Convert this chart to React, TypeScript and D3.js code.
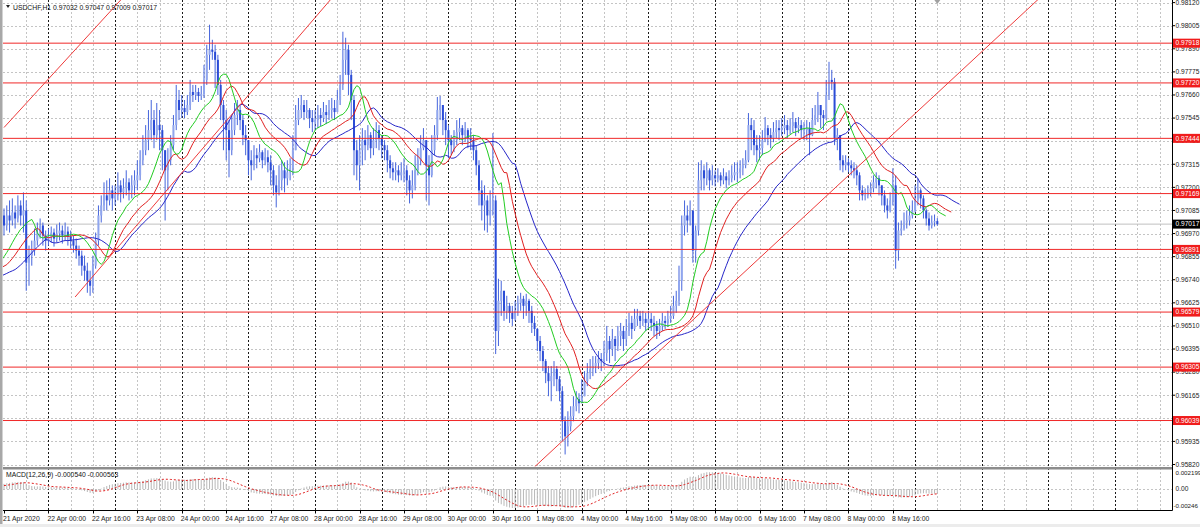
import * as d3 from "d3";

// prices in 1e-5 units (0.97010 -> 97010)
// median prices of the bars before the first visible one (only needed to warm up the indicators)
const priorPrices = [
  96690, 96700, 96710, 96695, 96705, 96715, 96700, 96690, 96705, 96720, 96710, 96700, 96715, 96725, 96710, 96720, 96730, 96720, 96735,
  96750, 96760, 96770, 96765, 96775, 96780, 96790, 96785, 96795, 96800, 96810, 96820,
  96835, 96850, 96860, 96855, 96870,
  96930, 96960, 96990,
];
const firstOpen = 97060;

const closes = [
  97010, 97060, 97035, 97075, 97045, 97110, 97060, 97085,
  96825, 96860, 96885, 96935, 96975, 97010, 96960, 96935,
  96955, 96975, 96945, 96970, 96985, 96960, 96980, 96955,
  96935, 96910, 96885, 96860, 96810, 96785, 96735, 96710,
  96810, 96935, 97060, 97110, 97160, 97135, 97185, 97145,
  97160, 97210, 97175, 97195, 97225, 97185, 97210, 97235,
  97260, 97335, 97385, 97435, 97485, 97535, 97460, 97510,
  97485, 97385, 97285, 97335, 97410, 97510, 97635, 97585,
  97595, 97575, 97610, 97675, 97660, 97675, 97655, 97665,
  97735, 97860, 97885, 97875, 97835, 97710, 97610, 97535,
  97485, 97385, 97485, 97560, 97585, 97535, 97460, 97435,
  97335, 97310, 97360, 97345, 97375, 97335, 97350, 97325,
  97285, 97210, 97175, 97235, 97285, 97245, 97275, 97295,
  97385, 97535, 97585, 97610, 97575, 97585, 97545, 97525,
  97535, 97560, 97545, 97575, 97560, 97585, 97595, 97575,
  97635, 97710, 97835, 97885, 97760, 97635, 97385, 97310,
  97385, 97435, 97410, 97460, 97395, 97435, 97485, 97445,
  97410, 97385, 97335, 97295, 97275, 97285, 97260, 97275,
  97285, 97235, 97185, 97210, 97285, 97335, 97395, 97435,
  97310, 97260, 97385, 97460, 97585, 97610, 97535, 97485,
  97435, 97410, 97435, 97475, 97495, 97460, 97485, 97445,
  97435, 97385, 97310, 97185, 97110, 97135, 97060, 97085,
  97135, 96485, 96635, 96685, 96585, 96610, 96575, 96545,
  96585, 96625, 96645, 96610, 96635, 96585, 96525, 96495,
  96435, 96385, 96335, 96275, 96235, 96260, 96295, 96245,
  96185, 96035, 95960, 96010, 96060, 96110, 96145, 96125,
  96160, 96235, 96275, 96295, 96310, 96325, 96345, 96335,
  96375, 96435, 96395, 96445, 96410, 96460, 96485, 96445,
  96485, 96525, 96495, 96545, 96560, 96535, 96545, 96525,
  96545, 96525, 96510, 96485, 96510, 96535, 96525, 96545,
  96560, 96610, 96635, 96735, 97010, 97060, 97035, 97085,
  96885, 96985, 97235, 97285, 97245, 97285, 97235, 97260,
  97245, 97260, 97235, 97255, 97235, 97245, 97260, 97275,
  97275, 97295, 97310, 97335, 97510, 97485, 97410, 97385,
  97395, 97435, 97495, 97460, 97445, 97475, 97495, 97485,
  97495, 97510, 97485, 97505, 97525, 97495, 97510, 97485,
  97485, 97495, 97460, 97535, 97560, 97610, 97560, 97545,
  97660, 97735, 97725, 97445, 97460, 97335, 97310, 97325,
  97310, 97295, 97285, 97260, 97185, 97160, 97160, 97175,
  97195, 97225, 97245, 97210, 97160, 97110, 97085, 97135,
  97210, 96885, 96985, 96995, 97025, 97035, 97060, 97085,
  97135, 97185, 97145, 97085, 97045, 97010, 97025, 97032, 97017,
];

const highs = [
  97095, 97110, 97135, 97145, 97110, 97160, 97135, 97175,
  97135, 96910, 96935, 96995, 97025, 97045, 97025, 96985,
  96995, 97005, 96995, 97015, 97025, 97010, 97025, 97005,
  96985, 96960, 96945, 96910, 96885, 96860, 96825, 96785,
  96860, 96975, 97110, 97160, 97225, 97235, 97245, 97210,
  97210, 97275, 97235, 97245, 97285, 97245, 97260, 97285,
  97335, 97385, 97460, 97510, 97585, 97635, 97585, 97620,
  97585, 97510, 97385, 97395, 97460, 97560, 97710, 97685,
  97660, 97635, 97660, 97735, 97710, 97710, 97695, 97705,
  97810, 97910, 98010, 97935, 97910, 97860, 97735, 97635,
  97585, 97535, 97560, 97620, 97635, 97610, 97560, 97510,
  97435, 97385, 97410, 97395, 97415, 97385, 97395, 97385,
  97360, 97310, 97260, 97310, 97335, 97325, 97335, 97345,
  97460, 97610, 97645, 97660, 97635, 97635, 97595, 97585,
  97585, 97610, 97595, 97625, 97610, 97635, 97645, 97635,
  97685, 97760, 97975, 97945, 97910, 97785, 97660, 97435,
  97460, 97495, 97485, 97510, 97475, 97495, 97525, 97510,
  97460, 97435, 97410, 97360, 97325, 97325, 97310, 97325,
  97345, 97310, 97260, 97285, 97360, 97395, 97460, 97495,
  97435, 97360, 97460, 97510, 97650, 97655, 97610, 97575,
  97510, 97460, 97485, 97535, 97545, 97510, 97525, 97495,
  97495, 97460, 97410, 97335, 97235, 97210, 97160, 97185,
  97470, 97160, 96745, 96735, 96685, 96660, 96625, 96610,
  96635, 96660, 96675, 96660, 96670, 96645, 96610, 96560,
  96500, 96460, 96410, 96345, 96310, 96310, 96335, 96310,
  96260, 96210, 96060, 96085, 96110, 96160, 96185, 96175,
  96245, 96285, 96325, 96345, 96360, 96360, 96385, 96375,
  96435, 96510, 96460, 96495, 96460, 96510, 96525, 96510,
  96545, 96575, 96560, 96595, 96595, 96585, 96585, 96575,
  96585, 96575, 96560, 96535, 96545, 96575, 96560, 96585,
  96610, 96660, 96685, 96810, 97060, 97135, 97110, 97135,
  97085, 97010, 97325, 97335, 97310, 97325, 97295, 97310,
  97285, 97295, 97275, 97295, 97275, 97285, 97310, 97325,
  97325, 97335, 97345, 97385, 97570, 97545, 97535, 97460,
  97460, 97485, 97550, 97510, 97495, 97525, 97535, 97535,
  97545, 97560, 97535, 97545, 97575, 97545, 97550, 97535,
  97525, 97535, 97525, 97595, 97610, 97675, 97610, 97585,
  97735, 97825, 97785, 97745, 97495, 97460, 97360, 97360,
  97345, 97335, 97325, 97310, 97275, 97210, 97195, 97210,
  97225, 97260, 97275, 97260, 97210, 97185, 97145, 97175,
  97295, 97260, 97025, 97035, 97075, 97085, 97110, 97135,
  97210, 97245, 97195, 97160, 97095, 97075, 97060, 97065, 97047,
];

const lows = [
  96960, 96985, 96975, 97010, 96995, 97025, 97010, 96975,
  96685, 96710, 96810, 96860, 96910, 96945, 96910, 96885,
  96910, 96925, 96905, 96925, 96935, 96920, 96935, 96910,
  96895, 96875, 96845, 96810, 96760, 96735, 96675, 96660,
  96675, 96795, 96910, 97025, 97085, 97085, 97110, 97085,
  97110, 97135, 97125, 97145, 97160, 97135, 97145, 97160,
  97185, 97235, 97310, 97360, 97385, 97435, 97395, 97435,
  97385, 97285, 97035, 97185, 97310, 97385, 97485, 97535,
  97545, 97545, 97560, 97585, 97625, 97635, 97625, 97635,
  97645, 97710, 97785, 97835, 97695, 97660, 97535, 97385,
  97335, 97250, 97360, 97460, 97510, 97485, 97410, 97360,
  97260, 97235, 97285, 97295, 97325, 97295, 97310, 97275,
  97210, 97160, 97100, 97160, 97185, 97175, 97210, 97235,
  97260, 97385, 97510, 97545, 97535, 97545, 97495, 97475,
  97485, 97495, 97505, 97525, 97515, 97535, 97545, 97535,
  97585, 97610, 97685, 97760, 97660, 97535, 97260, 97235,
  97185, 97310, 97335, 97385, 97345, 97360, 97395, 97385,
  97345, 97335, 97275, 97245, 97235, 97235, 97225, 97235,
  97225, 97160, 97120, 97145, 97185, 97260, 97310, 97385,
  97135, 97110, 97250, 97360, 97435, 97535, 97460, 97410,
  97345, 97360, 97375, 97410, 97435, 97410, 97425, 97395,
  97385, 97335, 97260, 97110, 97035, 96985, 96975, 97010,
  97060, 96370, 96410, 96560, 96535, 96545, 96525, 96510,
  96535, 96560, 96585, 96545, 96560, 96525, 96475, 96460,
  96385, 96335, 96285, 96225, 96160, 96135, 96210, 96185,
  96135, 95935, 95870, 95910, 95985, 96035, 96085, 96075,
  96125, 96160, 96210, 96245, 96260, 96275, 96295, 96285,
  96310, 96335, 96325, 96360, 96335, 96385, 96410, 96385,
  96410, 96460, 96445, 96485, 96510, 96495, 96510, 96485,
  96495, 96485, 96460, 96445, 96460, 96485, 96495, 96505,
  96525, 96545, 96575, 96610, 96685, 96960, 96975, 97010,
  96825, 96825, 96960, 97185, 97185, 97210, 97185, 97210,
  97205, 97225, 97205, 97215, 97195, 97210, 97225, 97235,
  97225, 97245, 97260, 97295, 97325, 97385, 97360, 97325,
  97335, 97360, 97425, 97410, 97395, 97425, 97445, 97435,
  97455, 97465, 97445, 97465, 97475, 97455, 97470, 97445,
  97435, 97435, 97360, 97455, 97510, 97525, 97495, 97485,
  97535, 97635, 97685, 97410, 97385, 97285, 97275, 97285,
  97275, 97260, 97245, 97210, 97135, 97135, 97135, 97145,
  97155, 97175, 97195, 97160, 97110, 97075, 97045, 97075,
  97110, 96795, 96835, 96960, 96985, 96995, 97010, 97045,
  97075, 97110, 97095, 97045, 97010, 96985, 96995, 97005, 97009,
];

const timeLabels = [
  "21 Apr 2020", "22 Apr 00:00", "22 Apr 16:00", "23 Apr 08:00", "24 Apr 00:00",
  "24 Apr 16:00", "27 Apr 08:00", "28 Apr 00:00", "28 Apr 16:00", "29 Apr 08:00",
  "30 Apr 00:00", "30 Apr 16:00", "1 May 08:00", "4 May 00:00", "4 May 16:00",
  "5 May 08:00", "6 May 00:00", "6 May 16:00", "7 May 08:00", "8 May 00:00", "8 May 16:00",
];

// horizontal levels drawn on the chart
const levels = [0.97918, 0.9772, 0.97444, 0.97169, 0.96891, 0.96579, 0.96305, 0.96039];

// trend lines: [bar1, price1, bar2, price2]
const trendLines = [
  [0, 0.97498, 44, 0.98163],
  [25.6, 0.96654, 119.3, 0.98163],
  [191, 0.95808, 374.4, 0.98163],
];

// Alligator: jaw / teeth / lips (SMMA of median price, shifted forward)
const alligator = [
  { period: 13, shift: 8, color: "#2626c8" },
  { period: 8, shift: 5, color: "#e02020" },
  { period: 5, shift: 3, color: "#22cc22" },
];

const header = "USDCHF,H1  0.97032 0.97047 0.97009 0.97017";
const macdTitle = "MACD(12,26,9) -0.000540 -0.000563";
const macdScale = ["0.002199", "0.00", "-0.00246"];
const bidPrice = 0.97017;

const W = 1200;
const H = 527;
const AX = 1172.5;
const MAIN_B = 466.5;
const SUB_T = 470;
const SUB_B = 510.5;
const FONT = "'Liberation Sans', Arial, sans-serif";

export default function App() {
  const P = priorPrices.length;
  const medians = highs.map((h, i) => (h + lows[i]) / 2);
  const fullMed = [...priorPrices, ...medians].map((v) => v / 1e5);
  const fullClose = [...priorPrices, ...closes].map((v) => v / 1e5);

  const bar = 200 / 72;
  const x = d3.scaleLinear().domain([0, 420]).range([4, 4 + 420 * bar]);
  const y = d3.scaleLinear().domain([0.9582, 0.9812]).range([464.5, 2.6]);
  const ym = d3.scaleLinear().domain([-0.00246, 0.002199]).range([SUB_B - 0.5, SUB_T + 0.5]);

  const priceTicks = d3.range(21).map((k) => 0.9582 + k * 0.00115);
  const gridIdx = d3.range(8, 421, 8).filter((i) => x(i) < AX - 1);
  const sepIdx = d3.range(16, 421, 24).filter((i) => x(i) < AX - 1);

  const smma = (src: number[], p: number) => {
    const out: number[] = [];
    let s = d3.mean(src.slice(0, p)) as number;
    src.forEach((v, k) => {
      if (k >= p) s = (s * (p - 1) + v) / p;
      out.push(s);
    });
    return out;
  };

  const ema = (src: number[], p: number) => {
    const a = 2 / (p + 1);
    let e = src[0];
    return src.map((v, k) => (k === 0 ? e : (e = e + a * (v - e))));
  };
  const e12 = ema(fullClose, 12);
  const e26 = ema(fullClose, 26);
  const macdFull = fullClose.map((_, k) => e12[k] - e26[k]);
  const signalFull = macdFull.map(
    (_, k) => d3.mean(macdFull.slice(Math.max(0, k - 8), k + 1)) as number
  );
  const macd = macdFull.slice(P);
  const signal = signalFull.slice(P);

  const lineGen = d3
    .line<[number, number]>()
    .x((d) => x(d[0]))
    .y((d) => y(d[1]));
  const sigGen = d3
    .line<number>()
    .x((_, i) => x(i))
    .y((v) => ym(v));

  const candles = closes.map((c, i) => {
    const o = (i === 0 ? firstOpen : closes[i - 1]) / 1e5;
    const cl = c / 1e5;
    const hi = Math.max(highs[i] / 1e5, o, cl);
    const lo = Math.min(lows[i] / 1e5, o, cl);
    return { i, o, c: cl, hi, lo };
  });

  const alligatorPaths = alligator.map((a) => {
    const vals = smma(fullMed, a.period);
    const pts: [number, number][] = [];
    vals.forEach((v, k) => {
      const idx = k - P + a.shift;
      if (k >= a.period - 1 && idx >= -2) pts.push([idx, v]);
    });
    return { ...a, d: lineGen(pts) || "" };
  });

  return (
    <svg
      width={W}
      height={H}
      style={{ position: "absolute", left: 0, top: 0, background: "#fff" }}
      fontFamily={FONT}
    >
      <defs>
        <clipPath id="mainClip">
          <rect x={3} y={0} width={AX - 3} height={MAIN_B} />
        </clipPath>
        <clipPath id="subClip">
          <rect x={3} y={SUB_T} width={AX - 3} height={SUB_B - SUB_T} />
        </clipPath>
      </defs>
      <rect x={0} y={0} width={W} height={H} fill="#fff" />
      <rect x={0} y={0} width={2.5} height={H} fill="#a8a8a8" />
      <rect x={0} y={524} width={W} height={3} fill="#ececec" />

      {/* grid */}
      <g stroke="#c4c4c4" strokeWidth={1} strokeDasharray="2,2">
        {priceTicks.map((p) => (
          <line key={p} x1={3} x2={AX} y1={Math.round(y(p)) + 0.5} y2={Math.round(y(p)) + 0.5} />
        ))}
        <line x1={3} x2={AX} y1={Math.round(ym(0)) + 0.5} y2={Math.round(ym(0)) + 0.5} />
        {gridIdx.map((i) => (
          <line key={i} x1={Math.round(x(i)) + 0.5} x2={Math.round(x(i)) + 0.5} y1={0} y2={SUB_B} />
        ))}
      </g>
      <g stroke="#1a1a1a" strokeWidth={1} strokeDasharray="2,2">
        {sepIdx.map((i) => (
          <line key={i} x1={Math.round(x(i)) + 0.5} x2={Math.round(x(i)) + 0.5} y1={0} y2={SUB_B} />
        ))}
      </g>

      {/* bid line */}
      <line x1={3} x2={AX} y1={y(bidPrice)} y2={y(bidPrice)} stroke="#c0c0c0" strokeWidth={1} />

      {/* candles */}
      <g clipPath="url(#mainClip)">
        {candles.map((d) => {
          const cx = x(d.i);
          const top = y(Math.max(d.o, d.c));
          const bh = Math.max(1, y(Math.min(d.o, d.c)) - top);
          const bull = d.c >= d.o;
          return (
            <g key={d.i}>
              <line x1={cx} x2={cx} y1={y(d.hi)} y2={y(d.lo)} stroke="#4564dc" strokeWidth={1} />
              <rect
                x={cx - 1}
                y={top}
                width={2}
                height={bh}
                fill={bull ? "#90a6ee" : "#2b4cd6"}
              />
            </g>
          );
        })}

        {/* alligator lines */}
        {alligatorPaths.map((m) => (
          <path key={m.period} d={m.d} fill="none" stroke={m.color} strokeWidth={1} />
        ))}

        {/* horizontal levels */}
        {levels.map((p) => (
          <line key={p} x1={3} x2={AX} y1={y(p)} y2={y(p)} stroke="#f02828" strokeWidth={1} />
        ))}

        {/* trend lines */}
        {trendLines.map((t, k) => (
          <line
            key={k}
            x1={x(t[0])}
            y1={y(t[1])}
            x2={x(t[2])}
            y2={y(t[3])}
            stroke="#ee3a3a"
            strokeWidth={1}
          />
        ))}
      </g>

      {/* MACD */}
      <g clipPath="url(#subClip)">
        <g stroke="#b8b8b8" strokeWidth={1}>
          {macd.map((v, i) => (
            <line key={i} x1={x(i)} x2={x(i)} y1={ym(0)} y2={ym(v)} />
          ))}
        </g>
        <path
          d={sigGen(signal) || ""}
          fill="none"
          stroke="#e02020"
          strokeWidth={1}
          strokeDasharray="2,2"
        />
      </g>

      {/* panel frames */}
      <rect x={3} y={467} width={AX - 3} height={2.5} fill="#8c8c8c" />
      <line x1={3} x2={AX} y1={SUB_B} y2={SUB_B} stroke="#000" />
      <line x1={AX} x2={AX} y1={0} y2={SUB_B} stroke="#000" />

      {/* header */}
      <path d="M6,5 L10,5 L8,8 Z" fill="#222" />
      <text x={13} y={10} fontSize={6.8} fill="#111">
        {header}
      </text>
      <text x={6} y={477} fontSize={6.8} fill="#111">
        {macdTitle}
      </text>
      <path d={`M${x(336) - 3},0 L${x(336) + 3},0 L${x(336)},4 Z`} fill="#a0a0a0" />

      {/* right price axis */}
      <g fontSize={6.6} fill="#222">
        {priceTicks.map((p) => (
          <g key={p}>
            <line x1={AX} x2={AX + 2.5} y1={y(p)} y2={y(p)} stroke="#000" />
            <text x={AX + 3} y={y(p)} dy="0.35em">
              {p.toFixed(5)}
            </text>
          </g>
        ))}
        <text x={AX + 3} y={SUB_T + 2.5} dy="0.35em" fontSize={6.2}>
          {macdScale[0]}
        </text>
        <text x={AX + 3} y={ym(0)} dy="0.35em">
          {macdScale[1]}
        </text>
        <text x={AX + 1} y={SUB_B - 4.5} dy="0.35em" fontSize={6.2}>
          {macdScale[2]}
        </text>
      </g>
      {levels.map((p) => (
        <g key={p}>
          <rect x={AX + 0.5} y={y(p) - 4.5} width={W - AX} height={9} fill="#f01c1c" />
          <text x={AX + 3} y={y(p)} dy="0.35em" fontSize={6.6} fill="#fff">
            {p.toFixed(5)}
          </text>
        </g>
      ))}
      <rect x={AX + 0.5} y={y(bidPrice) - 4.5} width={W - AX} height={9} fill="#000" />
      <text x={AX + 3} y={y(bidPrice)} dy="0.35em" fontSize={6.6} fill="#fff">
        {bidPrice.toFixed(5)}
      </text>

      {/* time axis */}
      <g fontSize={6.8} fill="#222">
        {timeLabels.map((t, k) => (
          <g key={t}>
            <line
              x1={Math.round(x(k * 16)) + 0.5}
              x2={Math.round(x(k * 16)) + 0.5}
              y1={SUB_B}
              y2={SUB_B + 3}
              stroke="#000"
            />
            <text x={x(k * 16) - 1} y={520.5}>
              {t}
            </text>
          </g>
        ))}
      </g>
    </svg>
  );
}
